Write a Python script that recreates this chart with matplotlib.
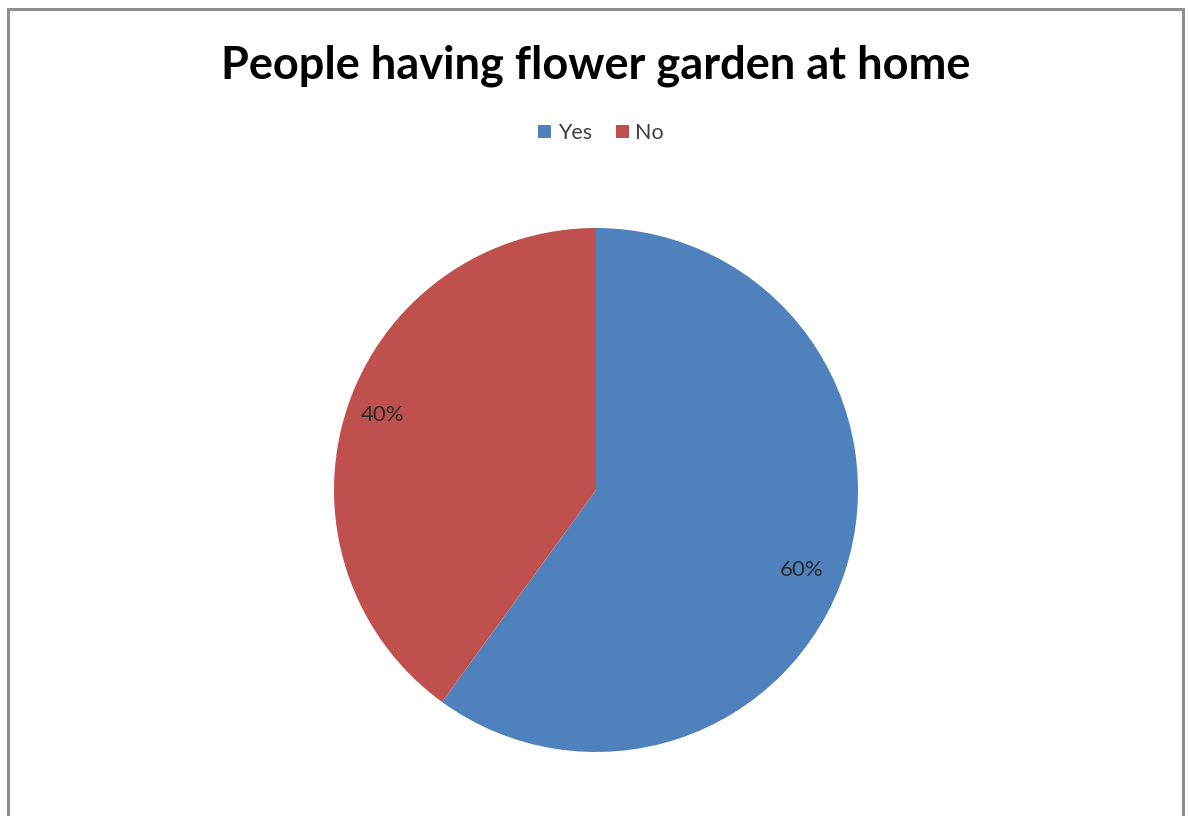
import matplotlib
matplotlib.use("Agg")
import matplotlib.pyplot as plt
from matplotlib.patches import Rectangle
from matplotlib.transforms import offset_copy

labels = ["Yes", "No"]
shares = [60, 40]
colors = ["#4F81BD", "#C0504D"]
title = "People having flower garden at home"

W, H = 1188, 816
fig = plt.figure(figsize=(W / 100, H / 100), dpi=100)
fig.patch.set_facecolor("white")

# chart frame (runs past the bottom edge)
fig.add_artist(Rectangle((8 / W, -0.05), (1183 - 8) / W, (H - 9) / H + 0.05,
                         transform=fig.transFigure, fill=False,
                         edgecolor="#8f8f8f", linewidth=2.2))

# pie: centre (596, 490), radius 262 px
cx, cy, r = 596, 490, 262
ax = fig.add_axes([(cx - r) / W, (H - cy - r) / H, 2 * r / W, 2 * r / H])
wedges, texts, autotexts = ax.pie(
    shares, colors=colors, startangle=90, counterclock=False,
    autopct="%d%%", pctdistance=0.855, radius=1.0,
    wedgeprops=dict(linewidth=0),
    textprops=dict(fontsize=16, color="#2a2a2a", family="Lato"))
ax.set_xlim(-1, 1)
ax.set_ylim(-1, 1)
ax.set_aspect("equal")
ax.axis("off")

# nudge the percentage labels slightly (offsets in points)
for t, (dx, dy) in zip(autotexts, [(-5, -8), (0, 4)]):
    t.set_transform(offset_copy(t.get_transform(), fig=fig, x=dx, y=dy, units="points"))

fig.text(596 / W, 1 - 66 / H, title, ha="center", va="center",
         fontsize=32.5, fontweight="bold", family="Lato", color="black")

leg = fig.legend(wedges, labels, loc="center", bbox_to_anchor=(601 / W, 1 - 133 / H),
                 ncol=2, frameon=False, handlelength=0.6,
                 handleheight=0.6, handletextpad=0.3, columnspacing=1.1,
                 prop=dict(family="Lato", size=15.5))
for t in leg.get_texts():
    t.set_color("#404040")

fig.savefig("out.png", dpi=100)
